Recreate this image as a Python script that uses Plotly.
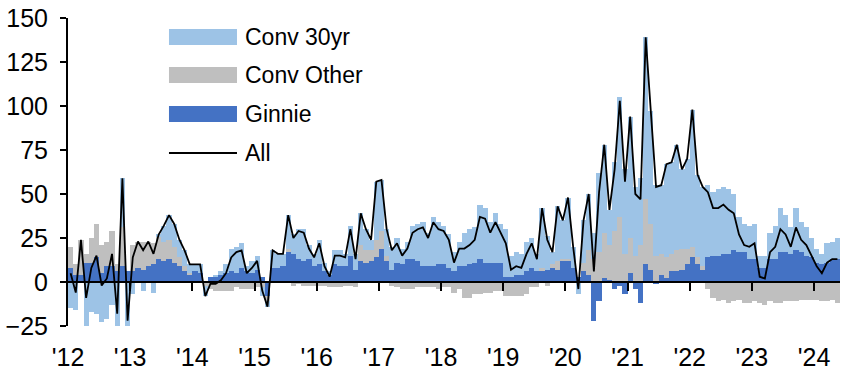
import pandas as pd
import plotly.graph_objects as go

# Monthly categories Jan-2012 .. May-2024
months = pd.period_range("2012-01", "2024-05", freq="M").strftime("%Y-%m").tolist()

ginnie = [
    8, 4, 4, 11, 11, 14, 5, 9, 9, 6, 9, 6,            # 2012
    6, 8, 7, 9, 10, 13, 12, 13, 11, 9, 6, 4,           # 2013
    6, 5, 0, 3, 3, 4, 5, 6, 5, 8, 6, 5,                # 2014
    7, 3, -8, 8, 8, 9, 17, 16, 13, 12, 13, 9,          # 2015
    10, 6, 4, 10, 9, 9, 15, 7, 12, 11, 12, 14,         # 2016
    19, 12, 7, 11, 10, 13, 13, 12, 9, 9, 9, 10,        # 2017
    10, 8, 6, 9, 9, 10, 11, 13, 11, 11, 11, 11,        # 2018
    3, 3, 4, 4, 6, 8, 6, 6, 7, 8, 7, 12,               # 2019
    12, 8, 3, 6, 4, -22, -11, 2, 1, -4, -2, -7,        # 2020
    5, -4, -12, 10, 7, -1, 4, 2, 6, 6, 7, 10,          # 2021
    14, 10, 7, 14, 15, 15, 16, 16, 18, 17, 17, 13,     # 2022
    13, 8, 8, 13, 13, 17, 17, 16, 18, 17, 15, 14,      # 2023
    11, 10, 11, 13, 13,                                # 2024
]

conv_other = [
    12, 6, 20, 5, 14, 19, 16, 14, 20, 4, 22, 0,        # 2012
    15, 15, 16, 14, 12, 13, 11, 11, 9, 5, 3, 1,        # 2013
    0, 0, -2, -4, -5, -5, -5, -5, -3, -4, -4, -4,      # 2014
    -3, -3, -3, 0, 0, 0, 2, -2, -1, -2, -2, -2,        # 2015
    -2, -2, -3, -3, -3, -2, -2, -3, 9, 7, 6, 10,       # 2016
    10, 3, -2, -3, -4, -4, -4, -3, -3, -3, -3, -4,     # 2017
    -3, -3, -6, -4, -9, -9, -7, -7, -6, -6, -5, -5,    # 2018
    -8, -8, -8, -8, -7, -3, -3, 2, -2, 2, 5, 1,        # 2019
    1, 0, 0, 5, 14, 13, 17, 26, 20, 29, 37, 16,        # 2020
    20, 15, 21, 37, 26, 15, 12, 12, 10, 12, 12, 9,     # 2021
    6, 4, 2, -4, -9, -11, -10, -12, -11, -10, -12, -12,  # 2022
    -11, -12, -13, -11, -12, -12, -11, -11, -11, -10, -10, -10,  # 2023
    -10, -11, -11, -10, -12,                           # 2024
]

conv_30yr = [
    -15, -16, 0, -25, -17, -18, -23, -21, -13, -28, 28, -28,  # 2012
    -7, 0, -5, 0, -6, 1, 9, 14, 13, 10, 9, 5,          # 2013
    4, 5, -6, 0, 1, 2, 5, 13, 15, 14, 3, 7,            # 2014
    8, -5, -3, 10, 8, 7, 19, 11, 17, 18, 8, 7,         # 2015
    14, 5, 2, 8, 9, 7, 17, 9, 18, 12, 6, 33,           # 2016
    29, 15, 13, 14, 9, 10, 19, 21, 25, 19, 28, 24,     # 2017
    22, 19, 11, 14, 19, 20, 20, 31, 31, 23, 28, 22,    # 2018
    27, 12, 13, 12, 17, 17, 10, 34, 19, 7, 31, 22,     # 2019
    35, 12, -7, 24, 32, 15, 45, 50, 20, 39, 68, 48,    # 2020
    69, 39, 38, 92, 64, 40, 39, 53, 52, 60, 45, 51,    # 2021
    78, 47, 45, 41, 36, 38, 38, 37, 32, 20, 16, 19,    # 2022
    20, 7, 7, 15, 19, 25, 21, 15, 24, 17, 16, 11,      # 2023
    8, 6, 11, 10, 12,                                  # 2024
]

all_total = [
    5, -6, 24, -9, 8, 15, -2, 2, 16, -18, 59, -22,     # 2012
    14, 23, 18, 23, 16, 27, 32, 38, 33, 24, 18, 10,    # 2013
    10, 10, -8, -1, -1, 1, 5, 14, 17, 18, 5, 8,        # 2014
    12, -5, -14, 18, 16, 16, 38, 25, 29, 28, 19, 14,   # 2015
    22, 9, 3, 15, 15, 14, 30, 13, 39, 30, 24, 57,      # 2016
    58, 30, 18, 22, 15, 19, 28, 30, 31, 25, 34, 30,    # 2017
    29, 24, 11, 19, 19, 21, 24, 37, 36, 28, 34, 28,    # 2018
    22, 7, 9, 8, 16, 22, 13, 42, 24, 17, 43, 35,       # 2019
    48, 20, -4, 35, 50, 6, 51, 78, 41, 64, 103, 57,    # 2020
    94, 50, 47, 139, 97, 54, 55, 67, 68, 78, 64, 70,   # 2021
    98, 61, 54, 51, 42, 42, 44, 41, 39, 27, 21, 20,    # 2022
    22, 3, 2, 17, 20, 30, 27, 20, 31, 24, 21, 15,      # 2023
    9, 5, 11, 13, 13,                                  # 2024
]

year_labels = ["'12", "'13", "'14", "'15", "'16", "'17", "'18", "'19",
               "'20", "'21", "'22", "'23", "'24"]
y_ticks = [-25, 0, 25, 50, 75, 100, 125, 150]

C_30 = "#9DC3E6"
C_OTHER = "#BFBFBF"
C_GINNIE = "#4472C4"
FONT = "Arial, Liberation Sans, sans-serif"

n = len(months)
xpos = [i + 0.5 for i in range(n)]
year_pos = [months.index(f"20{lab[1:]}-01") for lab in year_labels]

fig = go.Figure()
for name, vals, col in [("Ginnie", ginnie, C_GINNIE),
                        ("Conv Other", conv_other, C_OTHER),
                        ("Conv 30yr", conv_30yr, C_30)]:
    fig.add_trace(go.Bar(x=xpos, y=vals, name=name, width=1.0,
                         marker=dict(color=col, line=dict(width=0)),
                         customdata=months, showlegend=False))
fig.add_trace(go.Scatter(x=xpos, y=all_total, name="All", mode="lines",
                         line=dict(color="black", width=1.8),
                         xaxis="x2", showlegend=False))

zero_frac = (0 - y_ticks[0]) / (y_ticks[-1] - y_ticks[0])

fig.update_layout(
    width=852, height=382,
    margin=dict(l=68, r=12, t=18, b=56, autoexpand=False),
    paper_bgcolor="white", plot_bgcolor="white",
    barmode="relative", bargap=0,
    font=dict(family=FONT, size=25, color="black"),
    xaxis=dict(range=[0, n], anchor="free", position=zero_frac,
               showline=True, linecolor="black", linewidth=2,
               ticks="outside", tickvals=year_pos[1:], ticklen=8, tickwidth=2,
               tickcolor="black", showticklabels=False, showgrid=False,
               zeroline=False, automargin=False),
    xaxis2=dict(range=[0, n], overlaying="x", anchor="y", side="bottom",
                tickvals=year_pos, ticktext=year_labels, ticks="",
                showline=False, showgrid=False, zeroline=False,
                ticklabelstandoff=14, tickfont=dict(size=25), automargin=False,
                ticklabeloverflow="allow"),
    yaxis=dict(range=[y_ticks[0], y_ticks[-1]], tickvals=y_ticks,
               showline=True, linecolor="black", linewidth=2,
               ticks="outside", ticklen=6, tickwidth=2, tickcolor="black",
               showgrid=False, zeroline=False, ticklabelstandoff=7,
               tickfont=dict(size=25), automargin=False,
               ticklabeloverflow="allow"),
)

# Custom legend (large swatches as in the reference)
legend_items = [("Conv 30yr", C_30, 0.9383, "bar"),
                ("Conv Other", C_OTHER, 0.8149, "bar"),
                ("Ginnie", C_GINNIE, 0.6883, "bar"),
                ("All", "black", 0.5617, "line")]
sx0, sx1, half = 0.1308, 0.2189, 0.026
for label, col, yc, kind in legend_items:
    if kind == "bar":
        fig.add_shape(type="rect", xref="paper", yref="paper",
                      x0=sx0, x1=sx1, y0=yc - half, y1=yc + half,
                      fillcolor=col, line=dict(width=0))
    else:
        fig.add_shape(type="line", xref="paper", yref="paper",
                      x0=sx0, x1=sx1, y0=yc, y1=yc,
                      line=dict(color=col, width=1.8))
    fig.add_annotation(text=label, xref="paper", yref="paper",
                       x=0.2267, y=yc, xanchor="left", yanchor="middle",
                       showarrow=False, font=dict(size=23, family=FONT))

# Remove the browser's default 8px body margin so the figure sits at (0, 0)
fig.write_html("out.html",
               config={"displayModeBar": False},
               post_script="document.body.style.margin='0';document.body.style.padding='0';")
